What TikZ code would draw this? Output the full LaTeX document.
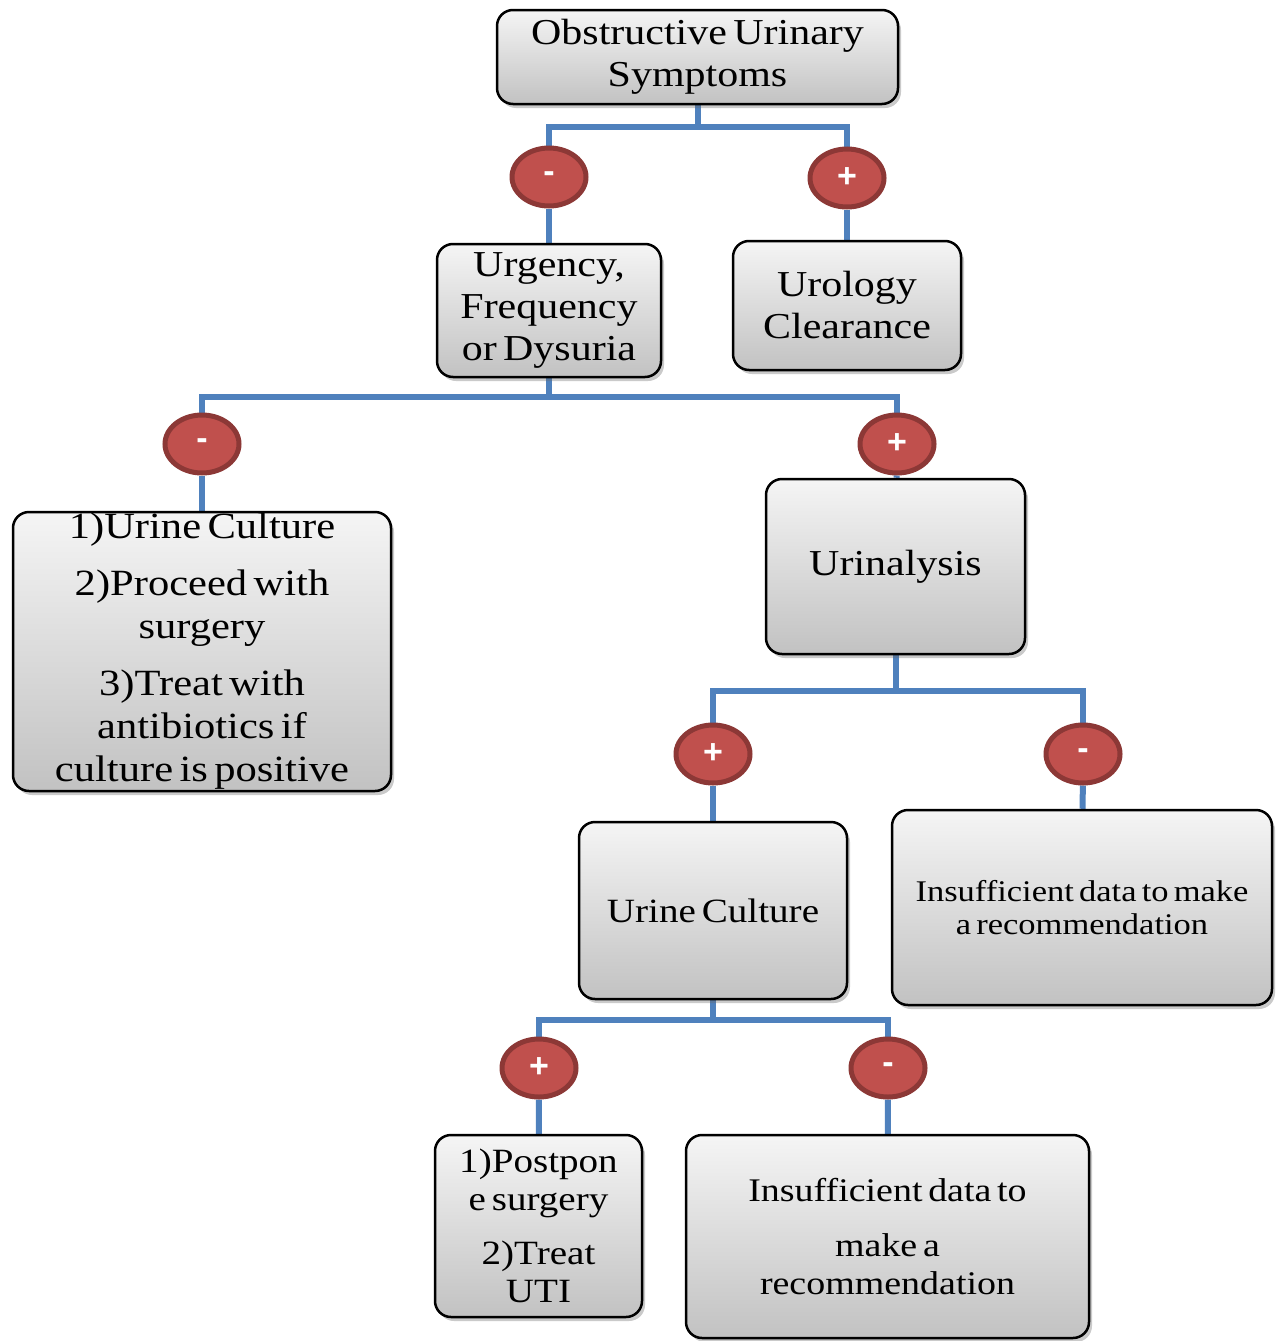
\documentclass[tikz,border=0pt]{standalone}
\usepackage{fontspec}
\setmainfont{Liberation Serif}[FakeStretch=1.15,WordSpace=0.6]
\newfontfamily\signfont{Liberation Sans}
\usetikzlibrary{shapes.geometric,shadows,backgrounds}
\definecolor{connblue}{HTML}{4F81BD}
\definecolor{circfill}{HTML}{C0504D}
\definecolor{circdraw}{HTML}{8C3836}
\tikzset{
  box/.style={draw=black, line width=2.5pt, rounded corners=16pt,
    top color=black!4, bottom color=black!24, align=center, inner sep=0pt,
    drop shadow={shadow xshift=3pt, shadow yshift=-4pt, opacity=0.35, fill=black!60}},
  sign/.style={ellipse, draw=circdraw, line width=5pt, fill=circfill,
    minimum width=74pt, minimum height=58pt, inner sep=0pt, text=white,
    font=\signfont\bfseries\fontsize{34}{34}\selectfont},
  conn/.style={draw=connblue, line width=6pt},
  big/.style={font=\fontsize{36.5}{42}\selectfont},
}
\begin{document}
\begin{tikzpicture}[x=1pt,y=-1pt]
\useasboundingbox (0,0) rectangle (1280,1341);
% boxes
\node[box, big, minimum width=401pt, minimum height=94pt] (top) at (697.5,57) {Obstructive Urinary\\Symptoms};
\node[box, big, minimum width=224pt, minimum height=133pt] (urg) at (549,310.5) {Urgency,\\Frequency\\or Dysuria};
\node[box, big, minimum width=228pt, minimum height=129pt] (uro) at (847,305.5) {Urology\\Clearance};
\node[box, font=\fontsize{37}{43}\selectfont, minimum width=378pt, minimum height=279pt] (left) at (202,651.5)
  {1)Urine Culture\\[14pt]2)Proceed with\\surgery\\[14pt]3)Treat with\\antibiotics if\\culture is positive};
\node[box, big, minimum width=259pt, minimum height=175pt] (urin) at (895.5,566.5) {Urinalysis};
\node[box, font=\fontsize{34}{40}\selectfont, minimum width=268pt, minimum height=177pt] (cult) at (713,910.5) {Urine Culture};
\node[box, font=\fontsize{30}{33}\selectfont, minimum width=380pt, minimum height=195pt] (ins1) at (1082,907.5) {Insufficient data to make\\a recommendation};
\node[box, font=\fontsize{34}{38}\selectfont, minimum width=207pt, minimum height=182pt] (post) at (538.5,1226) {1)Postpon\\e surgery\\[16pt]2)Treat\\UTI};
\node[box, font=\fontsize{33}{38}\selectfont, minimum width=403pt, minimum height=203pt] (ins2) at (887.5,1236.5) {Insufficient data to\\[17pt]make a\\recommendation};
% signs
\node[sign] (s1) at (549,177) {-};
\node[sign] (s2) at (847,178) {+};
\node[sign] (s3) at (202,444) {-};
\node[sign] (s4) at (897,444) {+};
\node[sign] (s5) at (713,754) {+};
\node[sign] (s6) at (1083,754) {-};
\node[sign] (s7) at (539,1068) {+};
\node[sign] (s8) at (888,1068) {-};
% connectors
\begin{scope}[on background layer]
\draw[conn] (top.south) -- ++(0,22) -| (s1.center);
\draw[conn] (top.south) -- ++(0,22) -| (s2.center);
\draw[conn] (s1) -- (urg);
\draw[conn] (s2) -- (uro);
\draw[conn] (urg.south) -- ++(0,19) -| (s3.center);
\draw[conn] (urg.south) -- ++(0,19) -| (s4.center);
\draw[conn] (s3) -- (left);
\draw[conn] (s4) -- (urin);
\draw[conn] (urin.south) -- ++(0,36) -| (s5.center);
\draw[conn] (urin.south) -- ++(0,36) -| (s6.center);
\draw[conn] (s5) -- (cult);
\draw[conn] (s6) -- (ins1);
\draw[conn] (cult.south) -- ++(0,20) -| (s7.center);
\draw[conn] (cult.south) -- ++(0,20) -| (s8.center);
\draw[conn] (s7) -- (post);
\draw[conn] (s8) -- (ins2);
\end{scope}
\end{tikzpicture}
\end{document}
